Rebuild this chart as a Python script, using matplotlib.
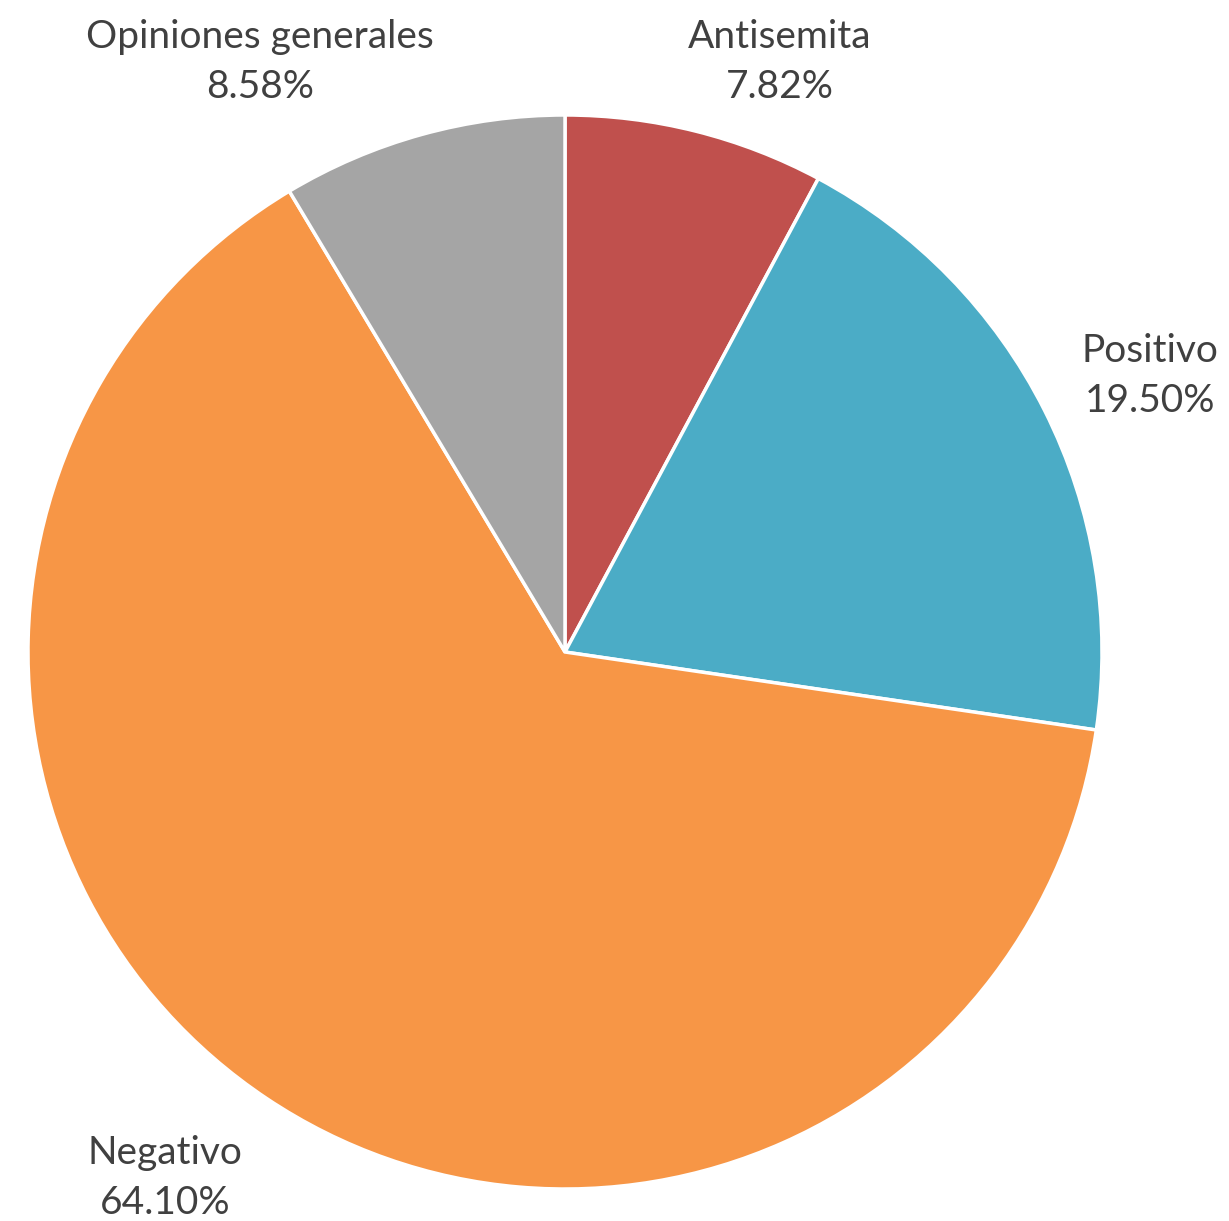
import matplotlib
matplotlib.use("Agg")
import matplotlib.pyplot as plt

categories = ["Antisemita", "Positivo", "Negativo", "Opiniones generales"]
shares = [7.82, 19.50, 64.10, 8.58]
colors = ["#C0504D", "#4BACC6", "#F79646", "#A5A5A5"]

# label centres in pixel coords (x, y from top)
label_pos = [(780, 62), (1150, 376), (165, 1178), (260, 62)]

W, H = 1229, 1221
fig = plt.figure(figsize=(W / 100, H / 100), dpi=100)
ax = fig.add_axes([0, 0, 1, 1])

ax.pie(shares, colors=colors, startangle=90, counterclock=False,
       center=(565, H - 652), radius=537,
       wedgeprops=dict(edgecolor="white", linewidth=2.5))

# pie() resets the limits, so set them afterwards
ax.set_xlim(0, W)
ax.set_ylim(0, H)
ax.set_aspect("auto")
ax.axis("off")

for name, val, (x, y) in zip(categories, shares, label_pos):
    ax.text(x, H - y, f"{name}\n{val:.2f}%", ha="center", va="center",
            fontsize=28, color="#404040", family="Lato", linespacing=1.45)

fig.savefig("out.png", dpi=100)
